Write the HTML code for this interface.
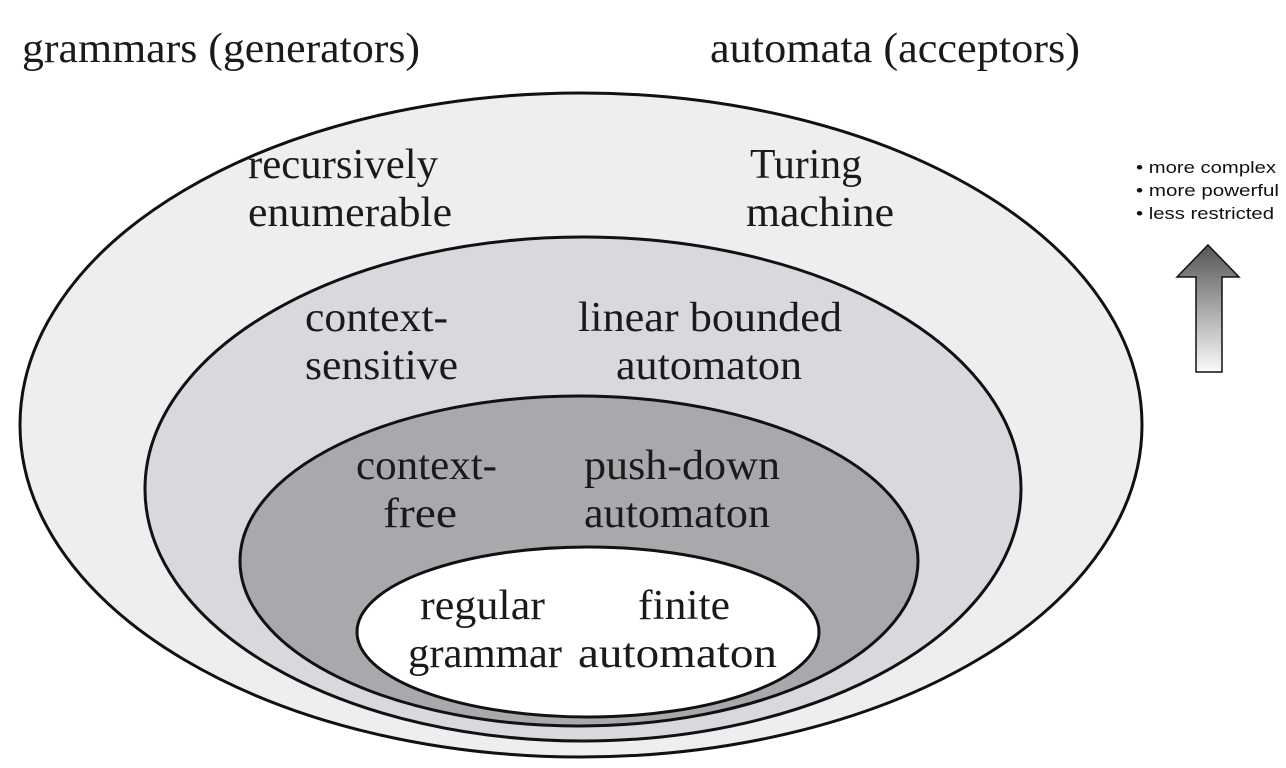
<!DOCTYPE html>
<html><head><meta charset="utf-8"><style>
html,body{margin:0;padding:0;background:#fff;}
svg{display:block;}
.t{font-family:"Liberation Serif",serif;font-size:42px;fill:#1a1a1a;}
.s{font-family:"Liberation Sans",sans-serif;font-size:17px;fill:#111;}
</style></head><body>
<svg width="1286" height="768" viewBox="0 0 1286 768" xmlns="http://www.w3.org/2000/svg">
<defs>
<linearGradient id="g" x1="0" y1="0" x2="0" y2="1">
<stop offset="0" stop-color="#555"/><stop offset="1" stop-color="#fafafa"/>
</linearGradient>
</defs>
<ellipse cx="581" cy="425" rx="561" ry="332" fill="#eeeef0" stroke="#111" stroke-width="3"/>
<ellipse cx="583" cy="489" rx="438" ry="252" fill="#d9d9dd" stroke="#111" stroke-width="3"/>
<ellipse cx="579" cy="561" rx="339" ry="165" fill="#a9a9ad" stroke="#111" stroke-width="3"/>
<ellipse cx="588" cy="632" rx="231" ry="85" fill="#fff" stroke="#111" stroke-width="3"/>

<g lengthAdjust="spacingAndGlyphs">
<text class="t" x="22" y="62" textLength="398" lengthAdjust="spacingAndGlyphs">grammars (generators)</text>
<text class="t" x="710" y="62" textLength="370" lengthAdjust="spacingAndGlyphs">automata (acceptors)</text>

<text class="t" x="248" y="178" textLength="190" lengthAdjust="spacingAndGlyphs">recursively</text>
<text class="t" x="248" y="226" textLength="204" lengthAdjust="spacingAndGlyphs">enumerable</text>
<text class="t" x="750" y="178" textLength="112" lengthAdjust="spacingAndGlyphs">Turing</text>
<text class="t" x="746" y="226" textLength="148" lengthAdjust="spacingAndGlyphs">machine</text>

<text class="t" x="305" y="331" textLength="143" lengthAdjust="spacingAndGlyphs">context-</text>
<text class="t" x="305" y="379" textLength="153" lengthAdjust="spacingAndGlyphs">sensitive</text>
<text class="t" x="578" y="331" textLength="264" lengthAdjust="spacingAndGlyphs">linear bounded</text>
<text class="t" x="616" y="379" textLength="186" lengthAdjust="spacingAndGlyphs">automaton</text>

<text class="t" x="356" y="479" textLength="141" lengthAdjust="spacingAndGlyphs">context-</text>
<text class="t" x="383" y="527" textLength="74" lengthAdjust="spacingAndGlyphs">free</text>
<text class="t" x="584" y="479" textLength="196" lengthAdjust="spacingAndGlyphs">push-down</text>
<text class="t" x="584" y="527" textLength="186" lengthAdjust="spacingAndGlyphs">automaton</text>

<text class="t" x="420" y="619" textLength="125" lengthAdjust="spacingAndGlyphs">regular</text>
<text class="t" x="408" y="667" textLength="154" lengthAdjust="spacingAndGlyphs">grammar</text>
<text class="t" x="638" y="619" textLength="92" lengthAdjust="spacingAndGlyphs">finite</text>
<text class="t" x="578" y="667" textLength="199" lengthAdjust="spacingAndGlyphs">automaton</text>

<text class="s" x="1136" y="173" textLength="140" lengthAdjust="spacingAndGlyphs">• more complex</text>
<text class="s" x="1136" y="196" textLength="143" lengthAdjust="spacingAndGlyphs">• more powerful</text>
<text class="s" x="1136" y="219" textLength="138" lengthAdjust="spacingAndGlyphs">• less restricted</text>
</g>

<polygon points="1208,245 1239,277 1222,277 1222,372 1196,372 1196,277 1177,277" fill="url(#g)" stroke="#111" stroke-width="1.5"/>
</svg>
</body></html>
